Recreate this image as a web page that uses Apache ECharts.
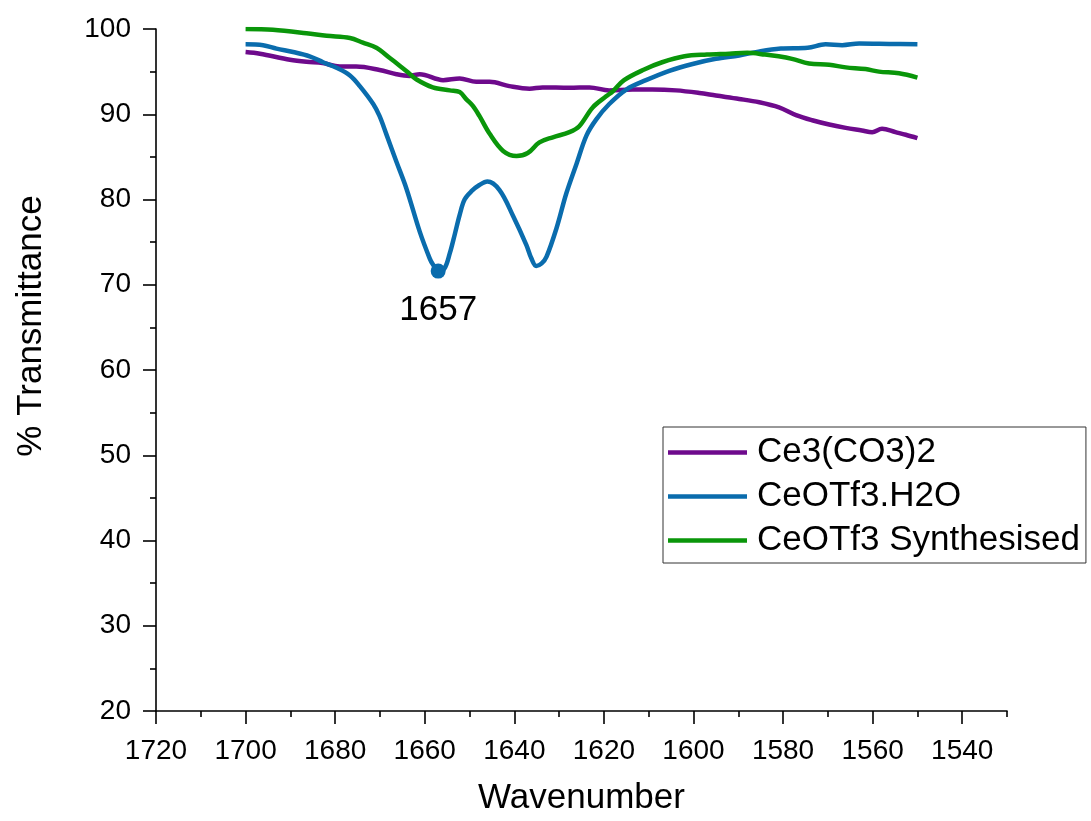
<!DOCTYPE html>
<html>
<head>
<meta charset="utf-8">
<script src="https://cdn.jsdelivr.net/npm/echarts@6/dist/echarts.min.js"></script>
<style>
  html, body { margin: 0; padding: 0; background: #ffffff; }
  #chart { width: 1091px; height: 821px; }
</style>
</head>
<body>
<div id="chart"></div>
<script>
// FTIR spectra, 1700-1550 cm-1 region

const seriesNames = ['Ce3(CO3)2', 'CeOTf3.H2O', 'CeOTf3 Synthesised'];

// Ce3(CO3)2
const carbonateX = [1700, 1696.8, 1690.1, 1686.4, 1682.8, 1679.0, 1675.3, 1670.1, 1666.3, 1663.4,
  1661.1, 1655.9, 1652.2, 1648.5, 1645.5, 1641.1, 1636.6, 1633.7, 1627.7, 1623.2,
  1618.8, 1613.6, 1609.2, 1603.9, 1598.7, 1595.0, 1589.8, 1585.3, 1580.9, 1577.1,
  1573.5, 1569.7, 1566.0, 1562.4, 1560.1, 1557.9, 1554.9, 1552.6, 1550];
const carbonateY = [97.3, 97.1, 96.4, 96.15, 96.0, 95.6, 95.6, 95.2, 94.7, 94.5,
  94.7, 94.0, 94.2, 93.8, 93.8, 93.3, 93.0, 93.15, 93.1, 93.15,
  92.8, 92.9, 92.9, 92.8, 92.5, 92.2, 91.8, 91.4, 90.8, 89.9,
  89.3, 88.8, 88.4, 88.1, 87.9, 88.3, 87.9, 87.6, 87.2];

// CeOTf3.H2O
const hydrateX = [1700, 1696.1, 1693.1, 1689.4, 1685.7, 1682.7, 1679.7, 1676.7, 1674.5, 1671.5,
  1670.1, 1668.6, 1666.3, 1664.1, 1661.1, 1658.9, 1658.2, 1657, 1655.6, 1654.4,
  1653.3, 1652.2, 1651.1, 1649.5, 1647.8, 1646, 1643.3, 1640.3, 1637.3, 1636.2,
  1635.1, 1633.9, 1632.8, 1630.6, 1628.4, 1626.1, 1623.9, 1621.7, 1618.8, 1615,
  1610.6, 1605.4, 1600.2, 1595, 1589.8, 1585, 1580.5, 1574.5, 1570.5, 1566.8,
  1563, 1556.3, 1550];
const hydrateY = [98.2, 98.1, 97.7, 97.3, 96.8, 96.1, 95.45, 94.55, 93.3, 91.2,
  89.8, 87.7, 84.4, 81.3, 76.2, 73.1, 72.4, 71.6, 71.9, 73.7,
  75.9, 78.2, 80.0, 81.0, 81.7, 82.1, 81.1, 78.1, 74.65, 73.1,
  72.2, 72.5, 73.3, 76.6, 80.7, 84.2, 87.5, 89.4, 91.2, 92.9,
  94.0, 95.1, 95.9, 96.5, 96.9, 97.4, 97.7, 97.8, 98.2, 98.1,
  98.3, 98.25, 98.2];

// CeOTf3 Synthesised
const synthX = [1700, 1693.9, 1686.4, 1681.9, 1676.7, 1673.8, 1670.8, 1667.8, 1665.6, 1663.7,
  1661.9, 1658.2, 1654.4, 1652.2, 1650.7, 1649.3, 1647.8, 1645.5, 1642.5, 1639.5,
  1637, 1634.4, 1631.4, 1627.7, 1625.5, 1622.5, 1619.5, 1618, 1615.5, 1611,
  1607, 1602, 1597, 1592, 1588, 1584, 1581, 1578, 1574.2, 1569.7,
  1566, 1561.6, 1558.6, 1554.1, 1550];
const synthY = [100, 99.9, 99.5, 99.2, 98.95, 98.4, 97.8, 96.6, 95.7, 94.9,
  94.1, 93.15, 92.8, 92.6, 91.75, 91.0, 89.8, 87.7, 85.7, 85.1,
  85.45, 86.7, 87.3, 87.9, 88.6, 90.8, 92.1, 92.7, 94.0, 95.25,
  96.1, 96.8, 97.0, 97.1, 97.2, 97.0, 96.8, 96.5, 95.95, 95.8,
  95.5, 95.3, 95.0, 94.8, 94.3];

// annotated band of the hydrate
const peakWavenumber = 1657;
const peakTransmittance = 71.6;

// axis ticks
const xMajorTicks = [1720, 1700, 1680, 1660, 1640, 1620, 1600, 1580, 1560, 1540];
const xMinorTicks = [1710, 1690, 1670, 1650, 1630, 1610, 1590, 1570, 1550, 1530];

const PURPLE = '#6e0a8c';
const BLUE = '#0a6cad';
const GREEN = '#0a960a';
const FONT = '"Liberation Sans", Arial, Helvetica, sans-serif';

const zip = (xs, ys) => xs.map((x, i) => [x, ys[i]]);

const chart = echarts.init(document.getElementById('chart'), null, { renderer: 'canvas' });

const axisLineStyle = { color: '#000', width: 1.6 };

chart.setOption({
  animation: false,
  backgroundColor: '#ffffff',
  grid: { left: 156, right: 84, top: 29, bottom: 105 },
  xAxis: [
    {
      type: 'value', min: 1530, max: 1720, inverse: true,
      name: 'Wavenumber', nameLocation: 'middle', nameGap: 70,
      nameTextStyle: { fontSize: 35, color: '#000', fontFamily: FONT },
      axisLine: { show: true, onZero: false, lineStyle: axisLineStyle },
      axisTick: { show: true, length: 13, lineStyle: axisLineStyle, customValues: xMajorTicks },
      axisLabel: {
        customValues: xMajorTicks, fontSize: 28, color: '#000', fontFamily: FONT, margin: 26,
        formatter: (v) => String(v)
      },
      splitLine: { show: false }
    },
    {
      type: 'value', min: 1530, max: 1720, inverse: true, position: 'bottom',
      axisLine: { show: false, onZero: false },
      axisTick: { show: true, length: 6, lineStyle: axisLineStyle, customValues: xMinorTicks },
      axisLabel: { show: false },
      splitLine: { show: false }
    }
  ],
  yAxis: {
    type: 'value', min: 20, max: 100, interval: 10,
    name: '% Transmittance', nameLocation: 'middle', nameGap: 107,
    nameTextStyle: { fontSize: 35, color: '#000', fontFamily: FONT, padding: [0, 0, 0, 88] },
    axisLine: { show: true, lineStyle: axisLineStyle },
    axisTick: { show: true, length: 13, lineStyle: axisLineStyle },
    minorTick: { show: true, splitNumber: 2, length: 6, lineStyle: axisLineStyle },
    axisLabel: { fontSize: 28, color: '#000', fontFamily: FONT, margin: 25 },
    splitLine: { show: false }
  },
  legend: {
    data: seriesNames,
    orient: 'vertical',
    left: 663, top: 427,
    padding: [8, 6, 5, 5],
    itemGap: 9,
    icon: 'rect',
    itemWidth: 79, itemHeight: 4.5,
    borderColor: '#333', borderWidth: 1,
    textStyle: { fontSize: 35, color: '#000', fontFamily: FONT, padding: [0, 0, 0, 5] }
  },
  series: [
    {
      name: seriesNames[0], type: 'line', data: zip(carbonateX, carbonateY),
      symbol: 'none', smooth: 0.35,
      lineStyle: { color: PURPLE, width: 4.5 }, itemStyle: { color: PURPLE }
    },
    {
      name: seriesNames[1], type: 'line', data: zip(hydrateX, hydrateY),
      symbol: 'none', smooth: 0.35,
      lineStyle: { color: BLUE, width: 4.5 }, itemStyle: { color: BLUE },
      markPoint: {
        symbol: 'circle', symbolSize: 15,
        itemStyle: { color: BLUE },
        label: {
          show: true, position: 'bottom', distance: 14,
          formatter: (p) => String(p.data.coord[0]),
          fontSize: 35, color: '#000', fontFamily: FONT
        },
        data: [{ coord: [peakWavenumber, peakTransmittance] }]
      }
    },
    {
      name: seriesNames[2], type: 'line', data: zip(synthX, synthY),
      symbol: 'none', smooth: 0.35,
      lineStyle: { color: GREEN, width: 4.5 }, itemStyle: { color: GREEN }
    }
  ]
});
</script>
</body>
</html>
